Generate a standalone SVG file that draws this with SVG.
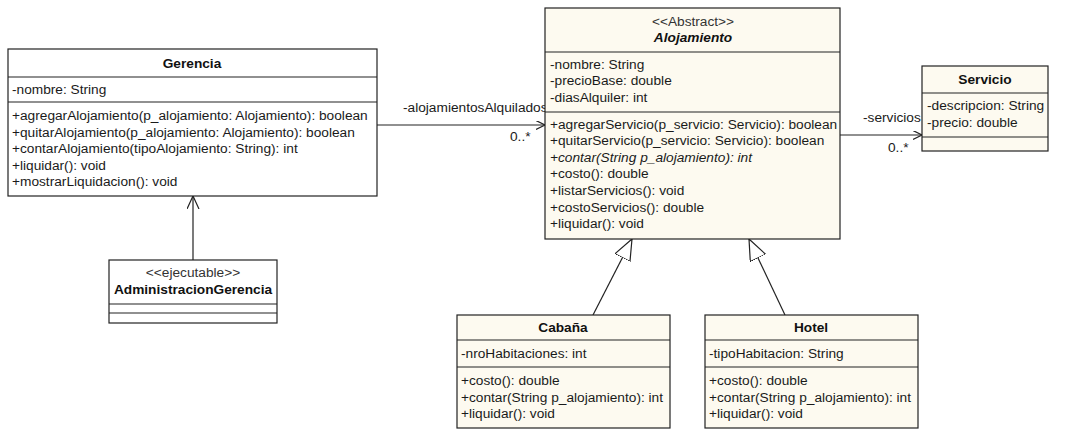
<svg xmlns="http://www.w3.org/2000/svg" width="1090" height="435" viewBox="0 0 1090 435">
<style>
text{font-family:"Liberation Sans",Arial,sans-serif;font-size:13.7px;fill:#1a1a1a}
.t{font-weight:bold;text-anchor:middle;fill:#111}
.ti{font-weight:bold;font-style:italic;text-anchor:middle;fill:#111}
.st{text-anchor:middle;fill:#333}
.it{font-style:italic}
.box{fill:#fdfaf0;stroke:#222;stroke-width:1.2}
.wbox{fill:#ffffff;stroke:#222;stroke-width:1.2}
.sep{stroke:#222;stroke-width:1.2}
.con{stroke:#222;stroke-width:1.2;fill:none}
</style>
<defs>
<marker id="open" markerUnits="userSpaceOnUse" markerWidth="12" markerHeight="12" refX="9" refY="4.5" orient="auto"><path d="M0,0 L9,4.5 L0,9" fill="none" stroke="#222" stroke-width="1.2"/></marker>
<marker id="openBig" markerUnits="userSpaceOnUse" markerWidth="16" markerHeight="14" refX="13" refY="6" orient="auto"><path d="M0,0 L13,6 L0,12" fill="none" stroke="#222" stroke-width="1.2"/></marker>
<marker id="tri" markerUnits="userSpaceOnUse" markerWidth="24" markerHeight="20" refX="21" refY="8.5" orient="auto"><path d="M0,0 L21,8.5 L0,17 z" fill="#ffffff" stroke="#222" stroke-width="1.2"/></marker>
</defs>
<rect width="1090" height="435" fill="#ffffff"/>
<g id="connectors">
<line class="con" x1="377" y1="125" x2="545" y2="125" marker-end="url(#open)"/>
<text x="403" y="112">-alojamientosAlquilados</text>
<text x="510" y="141">0..*</text>
<line class="con" x1="840" y1="135" x2="922" y2="135" marker-end="url(#open)"/>
<text x="863" y="122">-servicios</text>
<text x="888" y="152">0..*</text>
<line class="con" x1="193" y1="260" x2="193" y2="196" marker-end="url(#openBig)"/>
<line class="con" x1="593" y1="315" x2="632" y2="239" marker-end="url(#tri)"/>
<line class="con" x1="785" y1="315" x2="749" y2="239" marker-end="url(#tri)"/>
</g>
<g id="Gerencia">
<rect class="wbox" x="8" y="49" width="369" height="147"/>
<line class="sep" x1="8" y1="77" x2="377" y2="77"/>
<line class="sep" x1="8" y1="102" x2="377" y2="102"/>
<text class="t" x="192" y="68">Gerencia</text>
<text x="12" y="94">-nombre: String</text>
<text x="12" y="120">+agregarAlojamiento(p_alojamiento: Alojamiento): boolean</text>
<text x="12" y="136.5">+quitarAlojamiento(p_alojamiento: Alojamiento): boolean</text>
<text x="12" y="153">+contarAlojamiento(tipoAlojamiento: String): int</text>
<text x="12" y="169.5">+liquidar(): void</text>
<text x="12" y="186">+mostrarLiquidacion(): void</text>
</g>
<g id="AdministracionGerencia">
<rect class="wbox" x="109" y="260" width="168" height="63"/>
<line class="sep" x1="109" y1="304" x2="277" y2="304"/>
<line class="sep" x1="109" y1="313" x2="277" y2="313"/>
<text class="st" x="193" y="277">&lt;&lt;ejecutable&gt;&gt;</text>
<text class="t" x="193" y="294">AdministracionGerencia</text>
</g>
<g id="Alojamiento">
<rect class="box" x="545" y="8" width="295" height="231"/>
<line class="sep" x1="545" y1="52" x2="840" y2="52"/>
<line class="sep" x1="545" y1="112" x2="840" y2="112"/>
<text class="st" x="693" y="26">&lt;&lt;Abstract&gt;&gt;</text>
<text class="ti" x="693" y="42">Alojamiento</text>
<text x="550" y="69">-nombre: String</text>
<text x="550" y="85">-precioBase: double</text>
<text x="550" y="101.5">-diasAlquiler: int</text>
<text x="550" y="129">+agregarServicio(p_servicio: Servicio): boolean</text>
<text x="550" y="145">+quitarServicio(p_servicio: Servicio): boolean</text>
<text class="it" x="550" y="161.5">+contar(String p_alojamiento): int</text>
<text x="550" y="178">+costo(): double</text>
<text x="550" y="195">+listarServicios(): void</text>
<text x="550" y="212">+costoServicios(): double</text>
<text x="550" y="228">+liquidar(): void</text>
</g>
<g id="Servicio">
<rect class="box" x="922" y="66" width="126" height="85"/>
<line class="sep" x1="922" y1="93" x2="1048" y2="93"/>
<line class="sep" x1="922" y1="137" x2="1048" y2="137"/>
<text class="t" x="985" y="84">Servicio</text>
<text x="927" y="110">-descripcion: String</text>
<text x="927" y="127">-precio: double</text>
</g>
<g id="Cabana">
<rect class="box" x="457" y="315" width="213" height="113"/>
<line class="sep" x1="457" y1="340" x2="670" y2="340"/>
<line class="sep" x1="457" y1="367" x2="670" y2="367"/>
<text class="t" x="563" y="332">Cabaña</text>
<text x="461" y="358">-nroHabitaciones: int</text>
<text x="461" y="385">+costo(): double</text>
<text x="461" y="402">+contar(String p_alojamiento): int</text>
<text x="461" y="418">+liquidar(): void</text>
</g>
<g id="Hotel">
<rect class="box" x="705" y="315" width="213" height="113"/>
<line class="sep" x1="705" y1="340" x2="918" y2="340"/>
<line class="sep" x1="705" y1="367" x2="918" y2="367"/>
<text class="t" x="811" y="332">Hotel</text>
<text x="709" y="358">-tipoHabitacion: String</text>
<text x="709" y="385">+costo(): double</text>
<text x="709" y="402">+contar(String p_alojamiento): int</text>
<text x="709" y="418">+liquidar(): void</text>
</g>
</svg>
